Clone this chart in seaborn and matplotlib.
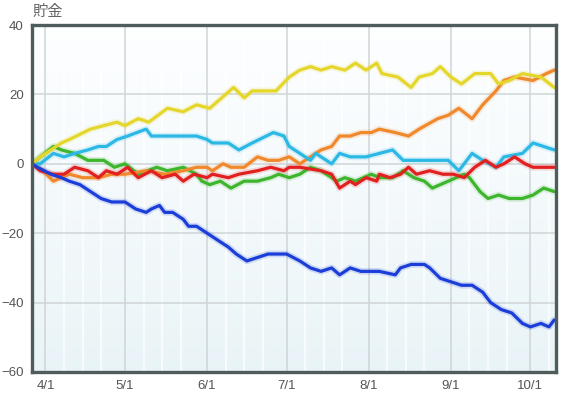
import numpy as np
import pandas as pd
import matplotlib
matplotlib.use("Agg")
import matplotlib.pyplot as plt
from matplotlib.ticker import FuncFormatter
import seaborn as sns

YEAR = 2014

yellow_dates = ["3/27", "3/30", "4/7", "4/10", "4/18", "4/23", "4/28", "5/1", "5/6", "5/10", "5/17",
                "5/23", "5/28", "6/2", "6/11", "6/15", "6/18", "6/24", "6/27", "7/2", "7/6", "7/10",
                "7/14", "7/18", "7/23", "7/27", "7/31", "8/4", "8/6", "8/12", "8/17", "8/20", "8/25",
                "8/28", "9/1", "9/5", "9/10", "9/16", "9/19", "9/23", "9/28", "10/5", "10/10"]
yellow_vals = [0, 2, 6, 7, 10, 11, 12, 11, 13, 12, 16, 15, 17, 16, 22, 19, 21, 21, 21, 25, 27, 28,
               27, 28, 27, 29, 27, 29, 26, 25, 22, 25, 26, 28, 25, 23, 26, 26, 23, 24, 26, 25, 22]

orange_dates = ["3/27", "3/31", "4/4", "4/10", "4/15", "4/21", "4/26", "5/1", "5/9", "5/16", "5/23",
                "5/28", "6/1", "6/3", "6/7", "6/10", "6/15", "6/20", "6/24", "6/28", "7/2", "7/6",
                "7/10", "7/14", "7/18", "7/21", "7/25", "7/29", "8/2", "8/5", "8/11", "8/16", "8/20",
                "8/27", "8/31", "9/4", "9/9", "9/13", "9/18", "9/21", "9/25", "10/2", "10/7", "10/10"]
orange_vals = [0, -2, -5, -3, -4, -4, -3, -3, -2, -3, -2, -1, -1, -2, 0, -1, -1, 2, 1, 1, 2, 0,
               2, 4, 5, 8, 8, 9, 9, 10, 9, 8, 10, 13, 14, 16, 13, 17, 21, 24, 25, 24, 26, 27]

cyan_dates = ["3/27", "3/30", "4/4", "4/8", "4/12", "4/17", "4/21", "4/24", "4/28", "5/2", "5/9",
              "5/11", "5/16", "5/23", "5/28", "6/1", "6/3", "6/9", "6/13", "6/18", "6/26", "6/30",
              "7/2", "7/6", "7/10", "7/12", "7/18", "7/21", "7/25", "7/31", "8/5", "8/10", "8/14",
              "8/18", "8/24", "8/31", "9/4", "9/9", "9/13", "9/18", "9/21", "9/28", "10/2", "10/6",
              "10/10"]
cyan_vals = [0, 0, 3, 2, 3, 4, 5, 5, 7, 8, 10, 8, 8, 8, 8, 7, 6, 6, 4, 6, 9, 8,
             5, 3, 1, 3, 0, 3, 2, 2, 3, 4, 1, 1, 1, 1, -2, 3, 1, -1, 2, 3, 6, 5, 4]

green_dates = ["3/27", "3/30", "4/4", "4/7", "4/12", "4/17", "4/23", "4/27", "5/1", "5/6", "5/13",
               "5/17", "5/23", "5/28", "5/30", "6/2", "6/6", "6/10", "6/15", "6/20", "6/25", "6/28",
               "7/2", "7/6", "7/10", "7/14", "7/20", "7/23", "7/27", "8/2", "8/5", "8/10", "8/14",
               "8/18", "8/22", "8/25", "8/31", "9/6", "9/8", "9/12", "9/15", "9/19", "9/23", "9/28",
               "10/2", "10/6", "10/10"]
green_vals = [0, 2, 5, 4, 3, 1, 1, -1, 0, -3, -1, -2, -1, -3, -5, -6, -5, -7, -5, -5, -4, -3,
              -4, -3, -1, -2, -5, -4, -5, -3, -4, -4, -2, -4, -5, -7, -5, -3, -4, -8, -10, -9, -10,
              -10, -9, -7, -8]

red_dates = ["3/27", "3/30", "4/4", "4/8", "4/12", "4/17", "4/21", "4/24", "4/28", "5/2", "5/6",
             "5/11", "5/15", "5/20", "5/23", "5/27", "6/1", "6/3", "6/9", "6/13", "6/20", "6/25",
             "6/30", "7/2", "7/6", "7/14", "7/18", "7/21", "7/25", "7/27", "7/31", "8/4", "8/5",
             "8/9", "8/13", "8/16", "8/19", "8/24", "8/29", "9/2", "9/6", "9/10", "9/14", "9/18",
             "9/21", "9/25", "9/29", "10/2", "10/10"]
red_vals = [0, -2, -3, -3, -1, -2, -4, -2, -3, -1, -4, -2, -4, -3, -5, -3, -4, -3, -4, -3, -2, -1,
            -2, -1, -1, -2, -3, -7, -5, -6, -4, -5, -3, -4, -3, -1, -3, -2, -3, -3, -4, -1, 1, -1,
            0, 2, 0, -1, -1]

blue_dates = ["3/27", "3/29", "4/3", "4/7", "4/10", "4/14", "4/18", "4/22", "4/26", "4/29", "5/1",
              "5/5", "5/9", "5/11", "5/14", "5/16", "5/19", "5/23", "5/25", "5/28", "6/1", "6/5",
              "6/9", "6/12", "6/16", "6/20", "6/24", "6/27", "7/1", "7/6", "7/10", "7/14", "7/18",
              "7/21", "7/25", "7/29", "8/2", "8/5", "8/11", "8/13", "8/17", "8/22", "8/24", "8/28",
              "9/1", "9/5", "9/9", "9/13", "9/16", "9/20", "9/24", "9/28", "10/1", "10/5", "10/8",
              "10/10"]
blue_vals = [0, -1, -3, -4, -5, -6, -8, -10, -11, -11, -11, -13, -14, -13, -12, -14, -14, -16, -18,
             -18, -20, -22, -24, -26, -28, -27, -26, -26, -26, -28, -30, -31, -30, -32, -30, -31,
             -31, -31, -32, -30, -29, -29, -30, -33, -34, -35, -35, -37, -40, -42, -43, -46, -47,
             -46, -47, -45]

month_ticks = ["4/1", "5/1", "6/1", "7/1", "8/1", "9/1", "10/1"]
y_ticks = [-60, -40, -20, 0, 20, 40]
y_title = "貯金"

series = [
    ("green", green_dates, green_vals, "#3db52c"),
    ("orange", orange_dates, orange_vals, "#f0882c"),
    ("cyan", cyan_dates, cyan_vals, "#2cb8e4"),
    ("yellow", yellow_dates, yellow_vals, "#e4d62a"),
    ("red", red_dates, red_vals, "#e2201f"),
    ("blue", blue_dates, blue_vals, "#1c3ed8"),
]


def to_date(s):
    return pd.to_datetime(f"{YEAR}/{s}", format="%Y/%m/%d")


frames = []
for name, ds, vs, _ in series:
    frames.append(pd.DataFrame({"team": name, "date": [to_date(d) for d in ds], "value": vs}))
df = pd.concat(frames, ignore_index=True)
palette = {name: c for name, _, _, c in series}
order = [name for name, _, _, _ in series]

sns.set_theme(style="white")
plt.rcParams["font.family"] = ["Liberation Sans", "DejaVu Sans"]

fig = plt.figure(figsize=(5.63, 3.97), dpi=100)
ax = fig.add_axes([32 / 563, 1 - 372 / 397, (556 - 32) / 563, (372 - 25) / 397])

# gradient background
grad = np.linspace(0, 1, 256).reshape(-1, 1)
top = np.array([0.995, 0.998, 1.0])
bot = np.array([0.915, 0.958, 0.972])
img = top[None, None, :] * (1 - grad[..., None]) + bot[None, None, :] * grad[..., None]
ax.imshow(img, extent=[0, 1, 0, 1], transform=ax.transAxes, aspect="auto", zorder=0)

xmin = to_date("3/27") - pd.Timedelta(hours=2)
xmax = to_date("10/10") + pd.Timedelta(hours=16)

# faint weekly stripes
for m in range(4, 11):
    for d in (8, 15, 22):
        t = pd.Timestamp(YEAR, m, d)
        if xmin < t < xmax:
            ax.axvline(t, color="white", lw=1.6, alpha=0.7, zorder=0.4)
for t in month_ticks:
    ax.axvline(to_date(t), color="#d0d5d7", lw=1.1, zorder=0.5)
for y in y_ticks[1:-1]:
    ax.axhline(y, color="#d0d5d7", lw=1.1, zorder=0.5)

# glow then main lines
sns.lineplot(data=df, x="date", y="value", hue="team", hue_order=order, palette=palette,
             linewidth=4.8, alpha=0.16, legend=False, ax=ax, zorder=2)
sns.lineplot(data=df, x="date", y="value", hue="team", hue_order=order, palette=palette,
             linewidth=2.3, legend=False, ax=ax, zorder=3)

ax.set_xlim(xmin, xmax)
ax.set_ylim(-60, 40)
ax.set_yticks(y_ticks)
ax.set_xticks([to_date(t) for t in month_ticks])
ax.set_xticklabels(month_ticks)
ax.set_xlabel("")
ax.set_ylabel("")
ax.tick_params(axis="both", length=0, labelsize=9.5, labelcolor="#555555")
ax.tick_params(axis="y", pad=6)
ax.tick_params(axis="x", pad=6)
for sp in ax.spines.values():
    sp.set_color("#4f5c5c")
    sp.set_linewidth(2.4)
    sp.set_zorder(5)

fig.text(32 / 563, 1 - 11 / 397, y_title, ha="left", va="center", fontsize=11,
         color="#666666", family=["Noto Sans CJK JP", "DejaVu Sans"])

fig.savefig("out.png", dpi=100)
